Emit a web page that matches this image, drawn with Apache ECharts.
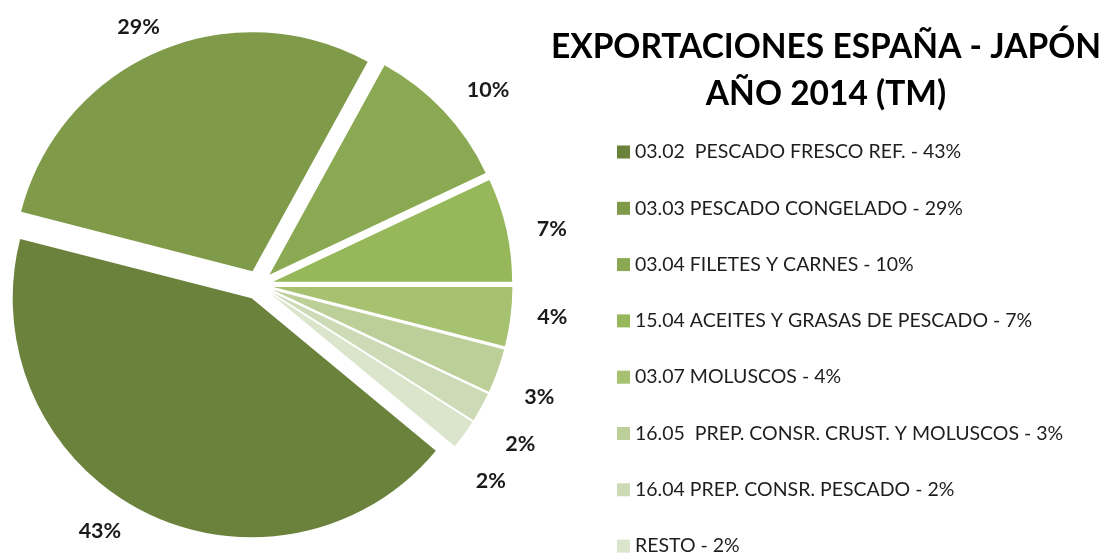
<!DOCTYPE html>
<html>
<head>
<meta charset="utf-8">
<script src="https://cdn.jsdelivr.net/npm/echarts@6/dist/echarts.min.js"></script>
<style>html,body{margin:0;padding:0;background:#fff}</style>
</head>
<body>
<div id="main" style="width:1106px;height:553px;"></div>
<script>
// datos
var categories = [
  '03.02  PESCADO FRESCO REF.',
  '03.03 PESCADO CONGELADO',
  '03.04 FILETES Y CARNES',
  '15.04 ACEITES Y GRASAS DE PESCADO',
  '03.07 MOLUSCOS',
  '16.05  PREP. CONSR. CRUST. Y MOLUSCOS',
  '16.04 PREP. CONSR. PESCADO',
  'RESTO'
];
var values = [43, 29, 10, 7, 4, 3, 2, 2];
var colors = ['#6B823C', '#7F9A48', '#8BA952', '#97B85A', '#A6C170', '#BCCF99', '#CDDAB6', '#DBE5CC'];
var titleLines = ['EXPORTACIONES ESPAÑA - JAPÓN', 'AÑO 2014 (TM)'];

var chart = echarts.init(document.getElementById('main'));
var option;

// pequeños ajustes de las etiquetas (como en el original de Excel)
var labelNudge = [[-7, 0], [16, -5], [2, -6], [4, 4], [0, -3], [1, 19], [0, 26], [-11, 34]];

option = {
  animation: false,
  title: {
    text: titleLines.join('\n'),
    left: 821,
    top: 19,
    textAlign: 'center',
    textStyle: {
      fontFamily: 'Lato',
      fontWeight: 'bold',
      fontSize: 33.5,
      lineHeight: 47,
      color: '#000'
    }
  },
  legend: {
    orient: 'vertical',
    left: 617,
    top: 142,
    height: 440,
    padding: 0,
    itemWidth: 13,
    itemHeight: 13,
    itemGap: 36.3,
    icon: 'rect',
    selectedMode: false,
    textStyle: {
      fontFamily: 'Lato',
      fontSize: 19.5,
      lineHeight: 20,
      color: '#1e1e1e'
    },
    formatter: function (name) {
      var i = categories.indexOf(name);
      return name + ' - ' + values[i] + '%';
    }
  },
  series: [
    {
      type: 'pie',
      center: [258.5, 285],
      radius: 239,
      startAngle: -39.6,
      clockwise: true,
      selectedMode: 'multiple',
      selectedOffset: 15,
      emphasis: { disabled: true },
      label: {
        position: 'outside',
        formatter: '{c}%',
        fontFamily: 'Lato',
        fontWeight: 'bold',
        fontSize: 21.5,
        color: '#1a1a1a'
      },
      labelLine: { show: false, length: 22, length2: 0 },
      labelLayout: function (p) {
        var n = labelNudge[p.dataIndex];
        return { dx: n[0], dy: n[1] };
      },
      data: categories.map(function (n, i) {
        return { name: n, value: values[i], selected: true, itemStyle: { color: colors[i] } };
      })
    }
  ]
};

option && chart.setOption(option);
</script>
</body>
</html>
